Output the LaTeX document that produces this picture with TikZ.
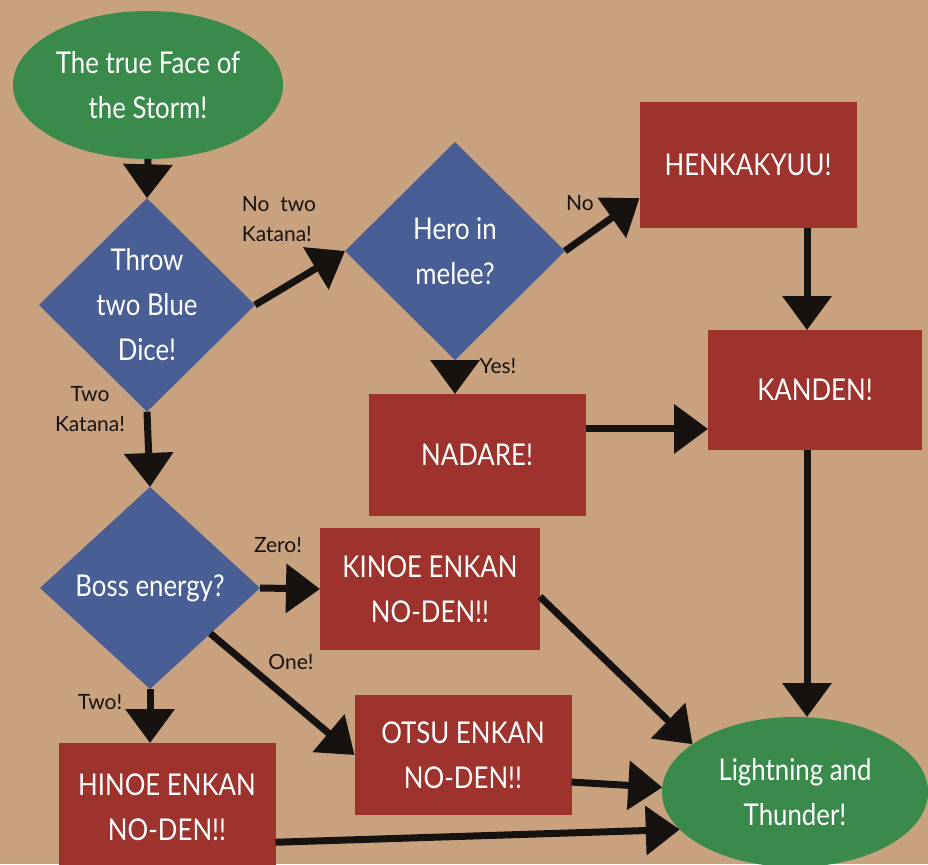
\documentclass[tikz,border=0pt]{standalone}
\usepackage{fontspec}
\setmainfont{Lato}[FakeStretch=0.86]
\newfontfamily\handfont{Lato}
\usetikzlibrary{shapes.geometric,arrows.meta,calc}
\definecolor{paper}{RGB}{200,161,126}
\definecolor{boxred}{RGB}{158,50,45}
\definecolor{diablue}{RGB}{74,94,150}
\definecolor{termgreen}{RGB}{58,138,76}
\definecolor{ink}{RGB}{22,18,16}
\begin{document}
\begin{tikzpicture}[x=1pt,y=-1pt,
  every node/.style={inner sep=0pt, outer sep=0pt},
  txt/.style={text=white, align=center, font=\fontsize{30}{45}\selectfont},
  term/.style={txt, ellipse, fill=termgreen},
  decide/.style={txt, diamond, fill=diablue},
  action/.style={txt, rectangle, fill=boxred, minimum width=217pt, minimum height=122pt},
  conn/.style={line width=7pt, draw=ink, -{Triangle[width=48pt,length=34pt]}},
  lbl/.style={text=ink, align=center, font=\handfont\fontsize{21}{30}\selectfont}
]
\useasboundingbox (0,0) rectangle (928,864);
\clip (0,0) rectangle (928,864);
\fill[paper] (0,0) rectangle (928,864);

% nodes
\node[term, minimum width=270pt, minimum height=148pt] (start) at (148,85) {The true Face of\\the Storm!};
\node[decide, minimum width=216pt, minimum height=200pt] (d1) at (147,305) {Throw\\two Blue\\Dice!};
\node[decide, minimum width=220pt, minimum height=218pt] (d2) at (455,251) {Hero in\\melee?};
\node[decide, minimum width=220pt, minimum height=202pt] (d3) at (150,588) {Boss energy?};
\node[action, minimum height=125pt] (henk) at (748,165) {HENKAKYUU!};
\node[action, minimum width=214pt, minimum height=120pt] (kanden) at (815,390) {KANDEN!};
\node[action] (nadare) at (477,455) {NADARE!};
\node[action, minimum width=220pt] (kinoe) at (430,589) {KINOE ENKAN\\NO-DEN!!};
\node[action, minimum height=120pt] (otsu) at (463,755) {OTSU ENKAN\\NO-DEN!!};
\node[action, minimum height=128pt] (hinoe) at (167,807) {HINOE ENKAN\\NO-DEN!!};
\node[term, minimum width=266pt, minimum height=150pt] (end) at (795,792) {Lightning and\\Thunder!};

% connectors
\draw[conn] (start.south) -- (d1.north);
\draw[conn] (d1.east) -- (d2.west);
\draw[conn] (d1.south) -- (d3.north);
\draw[conn] (d2.east) -- (henk.197);
\draw[conn] (d2.south) -- (d2.south |- nadare.north);
\draw[conn] (henk.south -| 807,0) -- (kanden.north -| 807,0);
\draw[conn] (nadare.east |- kanden.200) -- (kanden.200);
\draw[conn] (kanden.south -| 807,0) -- (end.north -| 807,0);
\draw[conn] (d3.east) -- (kinoe.west);
\draw[conn] (d3.-37) -- (otsu.west);
\draw[conn] (d3.south) -- (d3.south |- hinoe.north);
\draw[conn] (kinoe.-4) -- (end.155);
\draw[conn] (otsu.-14) -- (end.178);
\draw[conn] (hinoe.-18) -- (end.198);

% labels
\node[lbl, align=left] (l1) at (279,219) {No\ \ two\\Katana!};
\node[lbl] (l2) at (580,203) {No};
\node[lbl] (l3) at (498,366) {Yes!};
\node[lbl] (l4) at (90,409) {Two\\Katana!};
\node[lbl] (l5) at (278,545) {Zero!};
\node[lbl] (l6) at (291,662) {One!};
\node[lbl] (l7) at (100,702) {Two!};
\end{tikzpicture}
\end{document}
